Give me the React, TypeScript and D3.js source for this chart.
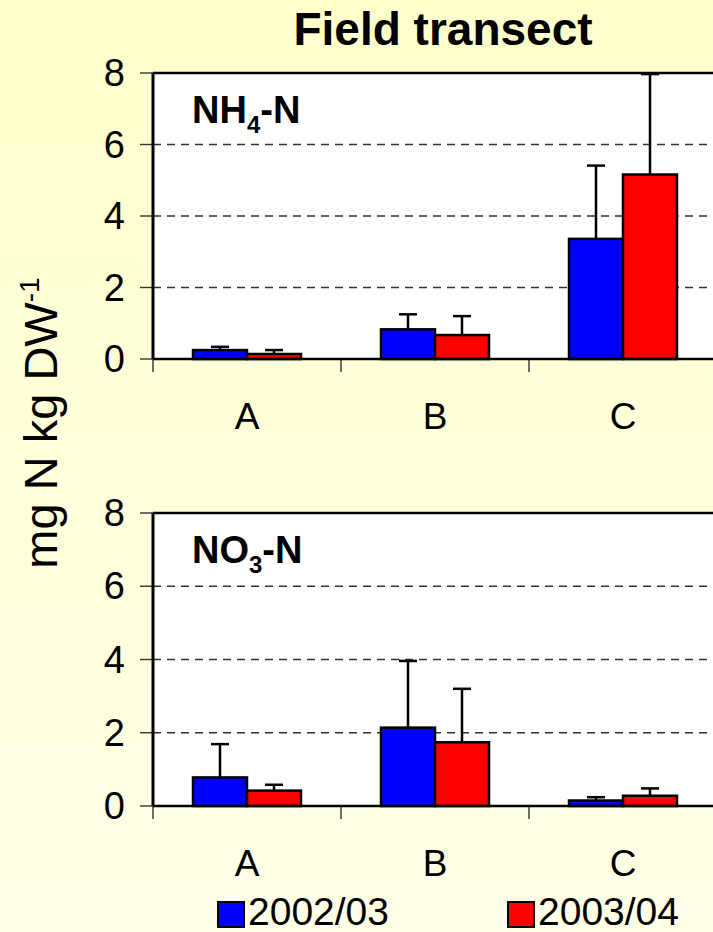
import React from "react";
import * as d3 from "d3";

// Sampling sites along the transect and the two seasons
const sites = ["A", "B", "C"];
const seasons = ["2002/03", "2003/04"];
const seasonColors = ["#0000FF", "#FF0000"];
const yTicks = [0, 2, 4, 6, 8];

// NH4-N (mg N kg DW-1): means and upper error values per site
const nh4Mean2002 = [0.25, 0.83, 3.36];
const nh4Err2002 = [0.09, 0.42, 2.05];
const nh4Mean2003 = [0.14, 0.67, 5.16];
const nh4Err2003 = [0.11, 0.53, 2.81];

// NO3-N (mg N kg DW-1)
const no3Mean2002 = [0.78, 2.14, 0.15];
const no3Err2002 = [0.91, 1.82, 0.09];
const no3Mean2003 = [0.42, 1.74, 0.28];
const no3Err2003 = [0.16, 1.46, 0.2];

const W = 713;
const H = 932;
const FONT = "'Liberation Sans', Arial, Helvetica, sans-serif";

const x = d3.scaleBand<string>().domain(sites).range([153, 717]).paddingInner(0).paddingOuter(0);
const xInner = d3.scaleBand<string>().domain(seasons).range([-54, 54]);

type PanelProps = {
  top: number;
  bottom: number;
  means: number[][];
  errs: number[][];
  label: React.ReactNode;
};

function Panel({ top, bottom, means, errs, label }: PanelProps) {
  const y = d3.scaleLinear().domain([0, 8]).range([bottom, top]);
  const left = x.range()[0];
  const right = x.range()[1];
  const boundaries = [left, ...sites.map((s) => (x(s) as number) + x.bandwidth())];
  return (
    <g>
      <rect x={left} y={y(8)} width={right - left + 4} height={y(0) - y(8)} fill="#fff" />
      {yTicks
        .filter((t) => t > 0 && t < 8)
        .map((t) => (
          <line
            key={"g" + t}
            x1={left}
            x2={right + 4}
            y1={y(t)}
            y2={y(t)}
            stroke="#333"
            strokeWidth={1.4}
            strokeDasharray="8,6"
          />
        ))}
      {yTicks.map((t) => (
        <g key={"t" + t}>
          <line x1={left - 13} x2={left} y1={y(t)} y2={y(t)} stroke="#333" strokeWidth={1.4} />
          <text
            x={125}
            y={y(t) + 13}
            textAnchor="end"
            fontFamily={FONT}
            fontSize={38}
            fill="#000"
          >
            {t}
          </text>
        </g>
      ))}
      {boundaries.map((b, i) => (
        <line key={"xt" + i} x1={b} x2={b} y1={y(0)} y2={y(0) + 13} stroke="#333" strokeWidth={1.4} />
      ))}
      {sites.map((s) => (
        <text
          key={"c" + s}
          x={(x(s) as number) + x.bandwidth() / 2}
          y={y(0) + 70}
          textAnchor="middle"
          fontFamily={FONT}
          fontSize={37}
          fill="#000"
        >
          {s}
        </text>
      ))}
      {sites.map((s, i) =>
        seasons.map((se, j) => {
          const cx = (x(s) as number) + x.bandwidth() / 2;
          const bx = cx + (xInner(se) as number);
          const v = means[j][i];
          const e = errs[j][i];
          const mid = bx + xInner.bandwidth() / 2;
          return (
            <g key={s + se}>
              <line x1={mid} x2={mid} y1={y(v)} y2={y(v + e)} stroke="#000" strokeWidth={2.5} />
              <line x1={mid - 9} x2={mid + 9} y1={y(v + e)} y2={y(v + e)} stroke="#000" strokeWidth={2.5} />
              <rect
                x={bx}
                y={y(v)}
                width={xInner.bandwidth()}
                height={y(0) - y(v)}
                fill={seasonColors[j]}
                stroke="#000"
                strokeWidth={2.5}
              />
            </g>
          );
        })
      )}
      <line x1={left} x2={right + 4} y1={y(8)} y2={y(8)} stroke="#000" strokeWidth={2.5} />
      <line x1={left} x2={right + 4} y1={y(0)} y2={y(0)} stroke="#000" strokeWidth={2.5} />
      <line x1={left} x2={left} y1={y(8)} y2={y(0)} stroke="#000" strokeWidth={3} />
      <text x={left + 39} y={y(8) + 50} fontFamily={FONT} fontSize={38} fontWeight="bold" fill="#000">
        {label}
      </text>
    </g>
  );
}

export default function App() {
  return (
    <svg
      width={W}
      height={H}
      viewBox={`0 0 ${W} ${H}`}
      style={{ position: "absolute", left: 0, top: 0, display: "block" }}
    >
      <defs>
        <linearGradient id="bg" x1="0" y1="0" x2="0" y2="1">
          <stop offset="0" stopColor="#FFFFCC" />
          <stop offset="1" stopColor="#FFFFE8" />
        </linearGradient>
      </defs>
      <rect x={0} y={0} width={W} height={H} fill="url(#bg)" />
      <text x={443} y={45} textAnchor="middle" fontFamily={FONT} fontSize={46} fontWeight="bold" fill="#000">
        Field transect
      </text>
      <text
        transform="translate(57,423) rotate(-90)"
        textAnchor="middle"
        fontFamily={FONT}
        fontSize={47}
        fill="#000"
      >
        mg N kg DW
        <tspan fontSize={28} dy={-18}>
          -1
        </tspan>
      </text>
      <Panel
        top={73}
        bottom={359}
        means={[nh4Mean2002, nh4Mean2003]}
        errs={[nh4Err2002, nh4Err2003]}
        label={
          <>
            NH
            <tspan fontSize={24} dy={10}>
              4
            </tspan>
            <tspan dy={-10}>-N</tspan>
          </>
        }
      />
      <Panel
        top={513}
        bottom={806}
        means={[no3Mean2002, no3Mean2003]}
        errs={[no3Err2002, no3Err2003]}
        label={
          <>
            NO
            <tspan fontSize={24} dy={10}>
              3
            </tspan>
            <tspan dy={-10}>-N</tspan>
          </>
        }
      />
      {seasons.map((se, j) => {
        const lx = j === 0 ? 218 : 508;
        return (
          <g key={"lg" + se}>
            <rect x={lx} y={902} width={26} height={25} fill={seasonColors[j]} stroke="#000" strokeWidth={2} />
            <text x={lx + 30} y={925} fontFamily={FONT} fontSize={39} fill="#000">
              {se}
            </text>
          </g>
        );
      })}
    </svg>
  );
}
